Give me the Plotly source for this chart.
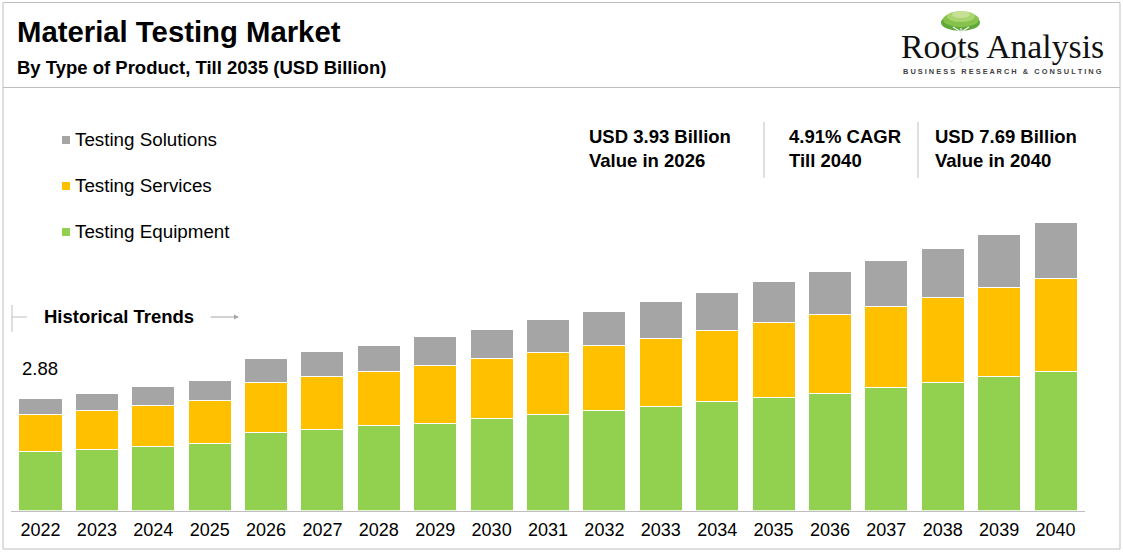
import plotly.graph_objects as go

# ---------------- data ----------------
years = [str(y) for y in range(2022, 2041)]
testing_equipment = [1.53, 1.59, 1.66, 1.74, 2.03, 2.10, 2.20, 2.27, 2.38, 2.49,
                     2.59, 2.71, 2.83, 2.93, 3.05, 3.19, 3.32, 3.48, 3.60]
testing_services = [0.97, 1.00, 1.08, 1.13, 1.29, 1.38, 1.41, 1.49, 1.56, 1.61,
                    1.69, 1.76, 1.85, 1.95, 2.03, 2.10, 2.21, 2.31, 2.42]
testing_solutions = [0.40, 0.46, 0.48, 0.51, 0.62, 0.64, 0.68, 0.75, 0.77, 0.85,
                     0.90, 0.95, 0.99, 1.06, 1.14, 1.21, 1.28, 1.37, 1.46]
series_names = ["Testing Equipment", "Testing Services", "Testing Solutions"]
series_colors = ["#92D050", "#FFC000", "#A5A5A5"]
first_year_label = "2.88"
stat_texts = [
    "<b>USD 3.93 Billion<br>Value in 2026</b>",
    "<b>4.91% CAGR<br>Till 2040</b>",
    "<b>USD 7.69 Billion<br>Value in 2040</b>",
]

W, H = 1123, 553
FONT = "Arial, Liberation Sans, sans-serif"


def px(x):
    return x / W


def py(y):
    return 1 - y / H


fig = go.Figure()
for name, vals, col in zip(series_names,
                           [testing_equipment, testing_services, testing_solutions],
                           series_colors):
    fig.add_trace(go.Bar(
        x=years, y=vals, name=name,
        marker=dict(color=col, line=dict(color="#FFFFFF", width=1)),
        showlegend=False, hoverinfo="x+y+name",
    ))

shapes = []
annotations = []

# outer frame and header separator
shapes.append(dict(type="rect", xref="paper", yref="paper",
                   x0=px(3), x1=px(1120), y0=py(549), y1=py(2.5),
                   line=dict(color="#BFBFBF", width=1), fillcolor="rgba(0,0,0,0)"))
shapes.append(dict(type="line", xref="paper", yref="paper",
                   x0=px(3), x1=px(1120), y0=py(87.5), y1=py(87.5),
                   line=dict(color="#BFBFBF", width=1)))

# titles
annotations.append(dict(xref="paper", yref="paper", x=px(15), y=py(32),
                        xanchor="left", yanchor="middle", showarrow=False,
                        text="<b>Material Testing Market</b>",
                        font=dict(family=FONT, size=29.3, color="#000000")))
annotations.append(dict(xref="paper", yref="paper", x=px(15), y=py(67),
                        xanchor="left", yanchor="middle", showarrow=False,
                        text="<b>By Type of Product, Till 2035 (USD Billion)</b>",
                        font=dict(family=FONT, size=18.5, color="#000000")))

# logo: stylised tree
for (x0, x1, y0, y1, c) in [
        (941, 980, 14, 31, "#5FA83A"),
        (943, 979, 12, 27, "#86C24C"),
        (947, 975, 11, 22, "#A9D46E"),
        (952, 970, 11, 18, "#C6E196")]:
    shapes.append(dict(type="circle", xref="paper", yref="paper",
                       x0=px(x0), x1=px(x1), y0=py(y1), y1=py(y0),
                       line=dict(width=0), fillcolor=c))
for (x0, y0, x1, y1) in [(961, 38, 961, 28), (961, 32, 953, 27), (961, 32, 969, 27)]:
    shapes.append(dict(type="line", xref="paper", yref="paper",
                       x0=px(x0), x1=px(x1), y0=py(y0), y1=py(y1),
                       line=dict(color="#F2F2F2", width=1.2)))
for (x0, y0, x1, y1) in [(960, 56, 950, 62), (962, 56, 974, 62), (961, 56, 961, 63)]:
    shapes.append(dict(type="line", xref="paper", yref="paper",
                       x0=px(x0), x1=px(x1), y0=py(y0), y1=py(y1),
                       line=dict(color="#D0D0D0", width=1)))
annotations.append(dict(xref="paper", yref="paper", x=px(1002), y=py(46),
                        xanchor="center", yanchor="middle", showarrow=False,
                        text="Roots Analysis",
                        font=dict(family="Liberation Serif, Times New Roman, serif",
                                  size=33.7, color="#111111")))
tagline = "BUSINESS RESEARCH & CONSULTING"
spaced = "   ".join(" ".join(w) for w in tagline.split(" "))
annotations.append(dict(xref="paper", yref="paper", x=px(1002), y=py(72),
                        xanchor="center", yanchor="middle", showarrow=False,
                        text="<b>" + spaced + "</b>",
                        font=dict(family=FONT, size=7.4, color="#3F3F3F")))

# legend (custom)
legend_rows = [("Testing Solutions", "#A5A5A5", 140),
               ("Testing Services", "#FFC000", 186),
               ("Testing Equipment", "#92D050", 232)]
for label, col, yc in legend_rows:
    shapes.append(dict(type="rect", xref="paper", yref="paper",
                       x0=px(62), x1=px(70), y0=py(yc + 4), y1=py(yc - 4),
                       line=dict(width=0), fillcolor=col))
    annotations.append(dict(xref="paper", yref="paper", x=px(73), y=py(yc - 1),
                            xanchor="left", yanchor="middle", showarrow=False,
                            text=label,
                            font=dict(family=FONT, size=18.8, color="#000000")))

# stats
stat_x = [587, 787, 933]
for t, xx in zip(stat_texts, stat_x):
    annotations.append(dict(xref="paper", yref="paper", x=px(xx), y=py(149),
                            xanchor="left", yanchor="middle", align="left",
                            showarrow=False, text=t,
                            font=dict(family=FONT, size=18.5, color="#000000")))
for xx in [764, 918]:
    shapes.append(dict(type="line", xref="paper", yref="paper",
                       x0=px(xx), x1=px(xx), y0=py(178), y1=py(122),
                       line=dict(color="#BFBFBF", width=1)))

# historical trends marker
shapes.append(dict(type="line", xref="paper", yref="paper",
                   x0=px(12), x1=px(12), y0=py(332), y1=py(305),
                   line=dict(color="#BFBFBF", width=1)))
shapes.append(dict(type="line", xref="paper", yref="paper",
                   x0=px(12), x1=px(27), y0=py(317), y1=py(317),
                   line=dict(color="#BFBFBF", width=1)))
annotations.append(dict(xref="paper", yref="paper", x=px(42), y=py(316),
                        xanchor="left", yanchor="middle", showarrow=False,
                        text="<b>Historical Trends</b>",
                        font=dict(family=FONT, size=18.5, color="#000000")))
annotations.append(dict(xref="paper", yref="paper", x=px(239), y=py(317),
                        ax=-30, ay=0, axref="pixel", ayref="pixel",
                        showarrow=True, arrowhead=2, arrowsize=1, arrowwidth=1,
                        arrowcolor="#A6A6A6", text=""))

# first year value label (category index 0 on the category axis)
first_total = testing_equipment[0] + testing_services[0] + testing_solutions[0]
annotations.append(dict(xref="x", yref="y", x=years.index(years[0]), y=first_total,
                        yanchor="bottom", xanchor="center", yshift=18,
                        showarrow=False, text=first_year_label,
                        font=dict(family=FONT, size=18.5, color="#000000")))

fig.update_layout(
    width=W, height=H,
    margin=dict(l=0, r=0, t=0, b=0),
    paper_bgcolor="#FFFFFF", plot_bgcolor="#FFFFFF",
    barmode="stack", bargap=0.237,
    font=dict(family=FONT, size=18, color="#000000"),
    xaxis=dict(domain=[px(11), px(1085)], range=[-0.523, 18.523],
               type="category", showline=True, linecolor="#BFBFBF", linewidth=1,
               showgrid=False, ticks="", zeroline=False, ticklabelstandoff=3,
               tickfont=dict(family=FONT, size=18, color="#000000")),
    yaxis=dict(domain=[py(510.5), py(125.5)], range=[0, 10], visible=False,
               showgrid=False, zeroline=False),
    shapes=shapes, annotations=annotations,
)

fig.write_html("out.html", config={"displayModeBar": False},
               post_script="document.body.style.margin='0';document.body.style.overflow='hidden';")
